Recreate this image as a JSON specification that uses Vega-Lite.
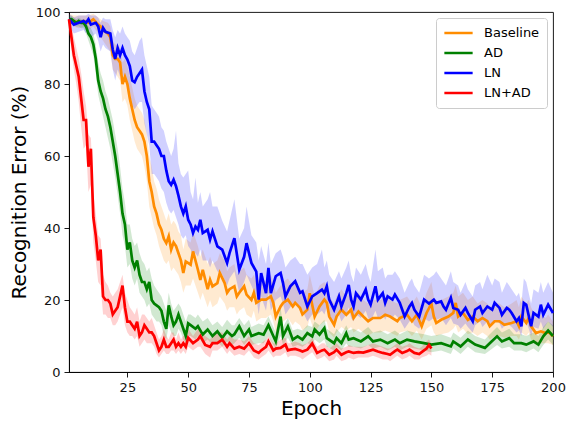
{
"$schema":"https://vega.github.io/schema/vega-lite/v6.json",
"width":484,"height":360,
"autosize":{"type":"none"},
"padding":{"left":69,"top":12,"right":13,"bottom":49},
"config":{"font":"DejaVu Sans","view":{"stroke":"#000","strokeWidth":0.9},
"axis":{"grid":false,"labelFlush":false,"domainColor":"#000","domainWidth":0.9,"tickColor":"#000","tickWidth":0.9,"tickSize":5,"labelFontSize":13,"labelColor":"#111","titleColor":"#000","titleFontSize":20,"titleFontWeight":"normal","labelPadding":4}},
"data":{"values":[
{"m":"Baseline","e":1,"y":98,"lo":96.5,"hi":99.5},{"m":"Baseline","e":3,"y":97.5,"lo":96,"hi":99},{"m":"Baseline","e":5,"y":97,"lo":95.5,"hi":99},{"m":"Baseline","e":7,"y":97.5,"lo":96,"hi":99},{"m":"Baseline","e":9,"y":97,"lo":95,"hi":99},{"m":"Baseline","e":11,"y":98,"lo":96,"hi":99.5},{"m":"Baseline","e":13,"y":96.5,"lo":94,"hi":98.5},{"m":"Baseline","e":14,"y":96,"lo":93,"hi":98},{"m":"Baseline","e":15,"y":95,"lo":92,"hi":97.5},{"m":"Baseline","e":17,"y":94,"lo":90,"hi":97},{"m":"Baseline","e":18,"y":93,"lo":89,"hi":96},{"m":"Baseline","e":19,"y":88,"lo":84,"hi":92},{"m":"Baseline","e":20,"y":87,"lo":83,"hi":91},{"m":"Baseline","e":21,"y":87,"lo":82,"hi":91},{"m":"Baseline","e":22,"y":86,"lo":81,"hi":90},{"m":"Baseline","e":23,"y":80,"lo":75,"hi":86},{"m":"Baseline","e":24,"y":82,"lo":76,"hi":87},{"m":"Baseline","e":25,"y":80,"lo":74,"hi":85},{"m":"Baseline","e":26,"y":76,"lo":70,"hi":82},{"m":"Baseline","e":27,"y":73,"lo":67,"hi":79},{"m":"Baseline","e":28,"y":70,"lo":64,"hi":76},{"m":"Baseline","e":29,"y":68,"lo":62,"hi":74},{"m":"Baseline","e":30,"y":67,"lo":61,"hi":73},{"m":"Baseline","e":31,"y":66,"lo":60,"hi":72},{"m":"Baseline","e":32,"y":64,"lo":57,"hi":70},{"m":"Baseline","e":33,"y":60,"lo":53,"hi":66},{"m":"Baseline","e":34,"y":53,"lo":46,"hi":60},{"m":"Baseline","e":35,"y":50,"lo":43,"hi":57},{"m":"Baseline","e":36,"y":46,"lo":40,"hi":53},{"m":"Baseline","e":37,"y":44,"lo":38,"hi":51},{"m":"Baseline","e":38,"y":41,"lo":35,"hi":48},{"m":"Baseline","e":39,"y":39.5,"lo":33,"hi":46},{"m":"Baseline","e":40,"y":37,"lo":31,"hi":44},{"m":"Baseline","e":41,"y":35.8,"lo":30,"hi":42},{"m":"Baseline","e":42,"y":37.7,"lo":31,"hi":44},{"m":"Baseline","e":43,"y":34,"lo":28,"hi":41},{"m":"Baseline","e":44,"y":36,"lo":29,"hi":42},{"m":"Baseline","e":45,"y":35,"lo":28,"hi":41},{"m":"Baseline","e":46,"y":33,"lo":27,"hi":39},{"m":"Baseline","e":47,"y":31,"lo":25,"hi":38},{"m":"Baseline","e":48,"y":27.5,"lo":22,"hi":34},{"m":"Baseline","e":49,"y":30.7,"lo":24,"hi":37},{"m":"Baseline","e":51,"y":29.8,"lo":24,"hi":36},{"m":"Baseline","e":52,"y":33.5,"lo":26,"hi":39},{"m":"Baseline","e":54,"y":28.4,"lo":22,"hi":35},{"m":"Baseline","e":55,"y":25.6,"lo":20,"hi":32},{"m":"Baseline","e":56,"y":28.4,"lo":22,"hi":34},{"m":"Baseline","e":58,"y":23,"lo":18,"hi":30},{"m":"Baseline","e":59,"y":25.6,"lo":20,"hi":32},{"m":"Baseline","e":60,"y":23.8,"lo":18,"hi":30},{"m":"Baseline","e":62,"y":24.7,"lo":19,"hi":31},{"m":"Baseline","e":63,"y":27.5,"lo":21,"hi":33},{"m":"Baseline","e":65,"y":24.7,"lo":19,"hi":31},{"m":"Baseline","e":66,"y":22,"lo":17,"hi":28},{"m":"Baseline","e":67,"y":23,"lo":18,"hi":29},{"m":"Baseline","e":69,"y":23.8,"lo":18,"hi":30},{"m":"Baseline","e":70,"y":21,"lo":16,"hi":27},{"m":"Baseline","e":71,"y":22,"lo":17,"hi":28},{"m":"Baseline","e":73,"y":23.8,"lo":18,"hi":29},{"m":"Baseline","e":74,"y":21.5,"lo":16,"hi":27},{"m":"Baseline","e":76,"y":20,"lo":15,"hi":26},{"m":"Baseline","e":77,"y":22,"lo":17,"hi":27},{"m":"Baseline","e":78,"y":19.2,"lo":14,"hi":25},{"m":"Baseline","e":80,"y":20.1,"lo":15,"hi":26},{"m":"Baseline","e":82,"y":20.1,"lo":15,"hi":25},{"m":"Baseline","e":84,"y":21,"lo":16,"hi":27},{"m":"Baseline","e":85,"y":19.2,"lo":14,"hi":25},{"m":"Baseline","e":86,"y":15.4,"lo":11,"hi":22},{"m":"Baseline","e":88,"y":18.2,"lo":13,"hi":24},{"m":"Baseline","e":89,"y":19.2,"lo":14,"hi":25},{"m":"Baseline","e":91,"y":20.1,"lo":15,"hi":26},{"m":"Baseline","e":93,"y":18.2,"lo":13,"hi":24},{"m":"Baseline","e":94,"y":19.2,"lo":14,"hi":25},{"m":"Baseline","e":96,"y":17.8,"lo":13,"hi":23},{"m":"Baseline","e":97,"y":16,"lo":11.5,"hi":22},{"m":"Baseline","e":99,"y":17.3,"lo":12.5,"hi":23},{"m":"Baseline","e":100,"y":21.9,"lo":15,"hi":27},{"m":"Baseline","e":102,"y":15.4,"lo":11,"hi":21},{"m":"Baseline","e":104,"y":18.2,"lo":13,"hi":24},{"m":"Baseline","e":106,"y":20.1,"lo":14,"hi":25},{"m":"Baseline","e":107,"y":19.2,"lo":14,"hi":24},{"m":"Baseline","e":108,"y":15.4,"lo":11,"hi":21},{"m":"Baseline","e":110,"y":13.1,"lo":9.5,"hi":19},{"m":"Baseline","e":111,"y":15.4,"lo":11,"hi":21},{"m":"Baseline","e":113,"y":17.3,"lo":12.5,"hi":23},{"m":"Baseline","e":115,"y":15.9,"lo":11.5,"hi":21},{"m":"Baseline","e":117,"y":17.3,"lo":12.5,"hi":22},{"m":"Baseline","e":118,"y":15,"lo":11,"hi":20},{"m":"Baseline","e":120,"y":16.8,"lo":12,"hi":22},{"m":"Baseline","e":122,"y":15.4,"lo":11,"hi":20},{"m":"Baseline","e":124,"y":14.1,"lo":10,"hi":19},{"m":"Baseline","e":126,"y":15,"lo":11,"hi":20},{"m":"Baseline","e":129,"y":15,"lo":11,"hi":20},{"m":"Baseline","e":131,"y":15.9,"lo":11.5,"hi":21},{"m":"Baseline","e":133,"y":15.4,"lo":11,"hi":20},{"m":"Baseline","e":136,"y":14.1,"lo":10,"hi":19},{"m":"Baseline","e":137,"y":15,"lo":11,"hi":20},{"m":"Baseline","e":140,"y":15.9,"lo":11.5,"hi":21},{"m":"Baseline","e":142,"y":14.1,"lo":10,"hi":19},{"m":"Baseline","e":144,"y":15.9,"lo":11.5,"hi":21},{"m":"Baseline","e":146,"y":12.7,"lo":9,"hi":18},{"m":"Baseline","e":148,"y":16.4,"lo":12,"hi":22},{"m":"Baseline","e":150,"y":19,"lo":13,"hi":25},{"m":"Baseline","e":151,"y":15.4,"lo":11,"hi":21},{"m":"Baseline","e":152,"y":13.6,"lo":10,"hi":19},{"m":"Baseline","e":154,"y":14.5,"lo":10.5,"hi":20},{"m":"Baseline","e":157,"y":15.4,"lo":11,"hi":21},{"m":"Baseline","e":159,"y":16.4,"lo":12,"hi":22},{"m":"Baseline","e":160,"y":19.2,"lo":13,"hi":24},{"m":"Baseline","e":161,"y":15.4,"lo":11,"hi":21},{"m":"Baseline","e":163,"y":16.4,"lo":12,"hi":22},{"m":"Baseline","e":165,"y":14.5,"lo":10.5,"hi":20},{"m":"Baseline","e":167,"y":15.4,"lo":11,"hi":21},{"m":"Baseline","e":169,"y":14.1,"lo":10,"hi":19},{"m":"Baseline","e":171,"y":15,"lo":11,"hi":20},{"m":"Baseline","e":173,"y":14.1,"lo":10,"hi":19},{"m":"Baseline","e":174,"y":12.7,"lo":9,"hi":18},{"m":"Baseline","e":176,"y":14.1,"lo":10,"hi":19},{"m":"Baseline","e":178,"y":14.1,"lo":10,"hi":19},{"m":"Baseline","e":180,"y":13.1,"lo":9.5,"hi":18},{"m":"Baseline","e":183,"y":13.6,"lo":10,"hi":19},{"m":"Baseline","e":185,"y":14.1,"lo":10,"hi":20},{"m":"Baseline","e":186,"y":12.7,"lo":9,"hi":18},{"m":"Baseline","e":187,"y":15.4,"lo":11,"hi":21},{"m":"Baseline","e":189,"y":13.6,"lo":10,"hi":19},{"m":"Baseline","e":190,"y":15,"lo":11,"hi":20},{"m":"Baseline","e":191,"y":12.7,"lo":9,"hi":18},{"m":"Baseline","e":193,"y":10.8,"lo":8,"hi":15},{"m":"Baseline","e":195,"y":11.3,"lo":8,"hi":16},{"m":"Baseline","e":197,"y":10.8,"lo":8,"hi":15},{"m":"Baseline","e":198,"y":11.3,"lo":8,"hi":16},{"m":"Baseline","e":200,"y":9.9,"lo":7.5,"hi":14},
{"m":"AD","e":1,"y":98,"lo":97,"hi":99},{"m":"AD","e":2,"y":98,"lo":97,"hi":99},{"m":"AD","e":3,"y":97.5,"lo":96.5,"hi":98.5},{"m":"AD","e":4,"y":97,"lo":96,"hi":98},{"m":"AD","e":5,"y":97.5,"lo":96,"hi":98.5},{"m":"AD","e":6,"y":97,"lo":95.5,"hi":98},{"m":"AD","e":7,"y":97,"lo":95.5,"hi":98},{"m":"AD","e":8,"y":96,"lo":94,"hi":97.5},{"m":"AD","e":9,"y":94,"lo":92,"hi":96},{"m":"AD","e":10,"y":93,"lo":90,"hi":95.5},{"m":"AD","e":11,"y":91,"lo":88,"hi":94},{"m":"AD","e":12,"y":87,"lo":83,"hi":91},{"m":"AD","e":13,"y":81,"lo":77,"hi":86},{"m":"AD","e":14,"y":78,"lo":74,"hi":83},{"m":"AD","e":15,"y":76,"lo":71,"hi":81},{"m":"AD","e":16,"y":73,"lo":68,"hi":78},{"m":"AD","e":17,"y":71,"lo":65,"hi":76},{"m":"AD","e":18,"y":68,"lo":62,"hi":73},{"m":"AD","e":19,"y":64,"lo":58,"hi":70},{"m":"AD","e":20,"y":60,"lo":54,"hi":66},{"m":"AD","e":21,"y":55,"lo":49,"hi":62},{"m":"AD","e":22,"y":50,"lo":44,"hi":57},{"m":"AD","e":23,"y":44,"lo":38,"hi":51},{"m":"AD","e":24,"y":41,"lo":35,"hi":47},{"m":"AD","e":25,"y":34,"lo":29,"hi":41},{"m":"AD","e":26,"y":36,"lo":30,"hi":41},{"m":"AD","e":27,"y":31,"lo":26,"hi":37},{"m":"AD","e":28,"y":29,"lo":24,"hi":35},{"m":"AD","e":29,"y":31,"lo":26,"hi":36},{"m":"AD","e":30,"y":27,"lo":22,"hi":33},{"m":"AD","e":31,"y":25,"lo":21,"hi":31},{"m":"AD","e":32,"y":25,"lo":20,"hi":30},{"m":"AD","e":33,"y":23,"lo":18,"hi":28},{"m":"AD","e":34,"y":25,"lo":19,"hi":29},{"m":"AD","e":35,"y":20,"lo":16,"hi":26},{"m":"AD","e":36,"y":19,"lo":15,"hi":24},{"m":"AD","e":37,"y":18.5,"lo":14,"hi":23},{"m":"AD","e":38,"y":18,"lo":14,"hi":22},{"m":"AD","e":39,"y":17,"lo":13,"hi":21},{"m":"AD","e":40,"y":14,"lo":10,"hi":19},{"m":"AD","e":41,"y":12,"lo":9,"hi":17},{"m":"AD","e":42,"y":18.5,"lo":13,"hi":22},{"m":"AD","e":43,"y":15.5,"lo":11,"hi":19},{"m":"AD","e":44,"y":13,"lo":10,"hi":17},{"m":"AD","e":45,"y":14,"lo":10,"hi":18},{"m":"AD","e":46,"y":16,"lo":12,"hi":19},{"m":"AD","e":47,"y":14,"lo":11,"hi":18},{"m":"AD","e":48,"y":12,"lo":9,"hi":16},{"m":"AD","e":49,"y":10,"lo":8,"hi":14},{"m":"AD","e":50,"y":13.5,"lo":10,"hi":16},{"m":"AD","e":51,"y":13,"lo":10,"hi":16},{"m":"AD","e":53,"y":12,"lo":9,"hi":15},{"m":"AD","e":54,"y":12.7,"lo":10,"hi":16},{"m":"AD","e":56,"y":10.4,"lo":8,"hi":14},{"m":"AD","e":58,"y":11.8,"lo":9,"hi":15},{"m":"AD","e":60,"y":10,"lo":7.5,"hi":13},{"m":"AD","e":62,"y":11.3,"lo":8.5,"hi":14},{"m":"AD","e":64,"y":9.5,"lo":7,"hi":12.5},{"m":"AD","e":66,"y":11.3,"lo":8.5,"hi":14.5},{"m":"AD","e":68,"y":10,"lo":7.5,"hi":13},{"m":"AD","e":69,"y":10.5,"lo":8,"hi":13},{"m":"AD","e":71,"y":12.7,"lo":9.5,"hi":15},{"m":"AD","e":73,"y":10,"lo":7.5,"hi":13},{"m":"AD","e":75,"y":11.8,"lo":9,"hi":14.5},{"m":"AD","e":76,"y":10,"lo":7.5,"hi":12.5},{"m":"AD","e":79,"y":10.8,"lo":8,"hi":13.5},{"m":"AD","e":81,"y":10.4,"lo":8,"hi":13},{"m":"AD","e":83,"y":13,"lo":10,"hi":15.5},{"m":"AD","e":85,"y":10,"lo":7.5,"hi":12.5},{"m":"AD","e":86,"y":8.5,"lo":6.5,"hi":11},{"m":"AD","e":88,"y":15.4,"lo":10,"hi":18},{"m":"AD","e":89,"y":10,"lo":7.5,"hi":12.5},{"m":"AD","e":91,"y":12.7,"lo":9.5,"hi":15},{"m":"AD","e":93,"y":9,"lo":7,"hi":11.5},{"m":"AD","e":95,"y":9.9,"lo":7.5,"hi":12},{"m":"AD","e":97,"y":9,"lo":7,"hi":11.5},{"m":"AD","e":99,"y":10.8,"lo":8,"hi":13},{"m":"AD","e":101,"y":9.9,"lo":7.5,"hi":12.5},{"m":"AD","e":102,"y":11.8,"lo":9,"hi":14},{"m":"AD","e":104,"y":10.4,"lo":8,"hi":13},{"m":"AD","e":106,"y":12.2,"lo":9,"hi":14.5},{"m":"AD","e":107,"y":9.4,"lo":7,"hi":12},{"m":"AD","e":110,"y":8,"lo":6,"hi":10.5},{"m":"AD","e":111,"y":9.4,"lo":7,"hi":12},{"m":"AD","e":113,"y":8,"lo":6,"hi":10.5},{"m":"AD","e":115,"y":10.8,"lo":8,"hi":13},{"m":"AD","e":116,"y":9,"lo":7,"hi":11.5},{"m":"AD","e":118,"y":9.4,"lo":7,"hi":12},{"m":"AD","e":121,"y":8.5,"lo":6.5,"hi":11},{"m":"AD","e":124,"y":9.9,"lo":7.5,"hi":12.5},{"m":"AD","e":126,"y":8.5,"lo":6.5,"hi":11},{"m":"AD","e":129,"y":9,"lo":7,"hi":11.5},{"m":"AD","e":132,"y":8,"lo":6,"hi":10.5},{"m":"AD","e":135,"y":9,"lo":7,"hi":11.5},{"m":"AD","e":137,"y":8,"lo":6,"hi":10.5},{"m":"AD","e":140,"y":9,"lo":7,"hi":11.5},{"m":"AD","e":143,"y":8.5,"lo":6.5,"hi":11},{"m":"AD","e":147,"y":8,"lo":6,"hi":10.5},{"m":"AD","e":150,"y":7.6,"lo":5.5,"hi":10},{"m":"AD","e":154,"y":8,"lo":6,"hi":10.5},{"m":"AD","e":158,"y":7.1,"lo":5,"hi":9.5},{"m":"AD","e":159,"y":8.5,"lo":6.5,"hi":11},{"m":"AD","e":162,"y":7.1,"lo":5,"hi":9.5},{"m":"AD","e":165,"y":9,"lo":7,"hi":11.5},{"m":"AD","e":168,"y":7.6,"lo":5.5,"hi":10},{"m":"AD","e":172,"y":6.7,"lo":5,"hi":9},{"m":"AD","e":174,"y":8,"lo":6,"hi":10.5},{"m":"AD","e":177,"y":9.9,"lo":7.5,"hi":12.5},{"m":"AD","e":179,"y":8.5,"lo":6.5,"hi":11},{"m":"AD","e":182,"y":9.4,"lo":7,"hi":12},{"m":"AD","e":184,"y":8,"lo":6,"hi":10.5},{"m":"AD","e":187,"y":8,"lo":6,"hi":10.5},{"m":"AD","e":189,"y":7.6,"lo":5.5,"hi":10},{"m":"AD","e":192,"y":8.5,"lo":6.5,"hi":11},{"m":"AD","e":194,"y":7.6,"lo":5.5,"hi":10},{"m":"AD","e":196,"y":9.9,"lo":7.5,"hi":12.5},{"m":"AD","e":198,"y":11.5,"lo":9,"hi":14},{"m":"AD","e":200,"y":10,"lo":7.5,"hi":13},
{"m":"LN","e":1,"y":98,"lo":96,"hi":99.5},{"m":"LN","e":3,"y":96.5,"lo":94,"hi":98.5},{"m":"LN","e":5,"y":97,"lo":94.5,"hi":99},{"m":"LN","e":7,"y":97.5,"lo":95,"hi":99},{"m":"LN","e":8,"y":97,"lo":94,"hi":99},{"m":"LN","e":9,"y":98,"lo":95,"hi":99.5},{"m":"LN","e":10,"y":96.5,"lo":93,"hi":99},{"m":"LN","e":12,"y":97,"lo":94,"hi":99},{"m":"LN","e":13,"y":96,"lo":92,"hi":98.5},{"m":"LN","e":14,"y":93,"lo":89,"hi":97},{"m":"LN","e":15,"y":95.6,"lo":91,"hi":98.5},{"m":"LN","e":16,"y":94.5,"lo":90,"hi":98},{"m":"LN","e":18,"y":94,"lo":89,"hi":98},{"m":"LN","e":19,"y":89.5,"lo":84,"hi":95},{"m":"LN","e":20,"y":87,"lo":81,"hi":93},{"m":"LN","e":21,"y":90,"lo":84,"hi":95},{"m":"LN","e":22,"y":88,"lo":82,"hi":94},{"m":"LN","e":23,"y":90,"lo":83,"hi":96},{"m":"LN","e":24,"y":88,"lo":81,"hi":94},{"m":"LN","e":25,"y":86.8,"lo":80,"hi":93},{"m":"LN","e":26,"y":85,"lo":78,"hi":92},{"m":"LN","e":27,"y":81,"lo":74,"hi":89},{"m":"LN","e":28,"y":80.5,"lo":73,"hi":88},{"m":"LN","e":29,"y":82,"lo":74,"hi":90},{"m":"LN","e":30,"y":83,"lo":75,"hi":92},{"m":"LN","e":31,"y":84,"lo":75,"hi":93},{"m":"LN","e":32,"y":78,"lo":69,"hi":88},{"m":"LN","e":33,"y":75,"lo":66,"hi":85},{"m":"LN","e":34,"y":73,"lo":63,"hi":82},{"m":"LN","e":35,"y":64,"lo":55,"hi":74},{"m":"LN","e":36,"y":64,"lo":55,"hi":73},{"m":"LN","e":37,"y":63,"lo":54,"hi":72},{"m":"LN","e":38,"y":62,"lo":53,"hi":71},{"m":"LN","e":39,"y":60,"lo":51,"hi":68},{"m":"LN","e":40,"y":60,"lo":50,"hi":67},{"m":"LN","e":41,"y":56,"lo":47,"hi":64},{"m":"LN","e":42,"y":53,"lo":45,"hi":62},{"m":"LN","e":43,"y":52,"lo":44,"hi":60},{"m":"LN","e":44,"y":53.4,"lo":45,"hi":62},{"m":"LN","e":45,"y":51.6,"lo":43,"hi":67},{"m":"LN","e":46,"y":49,"lo":41,"hi":58},{"m":"LN","e":47,"y":46,"lo":38,"hi":55},{"m":"LN","e":48,"y":44,"lo":37,"hi":54},{"m":"LN","e":49,"y":46,"lo":38,"hi":55},{"m":"LN","e":50,"y":42.3,"lo":35,"hi":56},{"m":"LN","e":51,"y":41,"lo":34,"hi":50},{"m":"LN","e":52,"y":38.6,"lo":32,"hi":48},{"m":"LN","e":53,"y":40.4,"lo":33,"hi":54},{"m":"LN","e":54,"y":39.5,"lo":32,"hi":47},{"m":"LN","e":55,"y":42.3,"lo":34,"hi":50},{"m":"LN","e":56,"y":38.6,"lo":31,"hi":46},{"m":"LN","e":58,"y":39.5,"lo":31,"hi":48},{"m":"LN","e":59,"y":36.8,"lo":29,"hi":50},{"m":"LN","e":60,"y":39.1,"lo":31,"hi":46},{"m":"LN","e":62,"y":34.9,"lo":28,"hi":46},{"m":"LN","e":64,"y":34,"lo":27,"hi":42},{"m":"LN","e":66,"y":30.3,"lo":24,"hi":39},{"m":"LN","e":67,"y":33,"lo":26,"hi":42},{"m":"LN","e":69,"y":37.2,"lo":28,"hi":48},{"m":"LN","e":71,"y":28.4,"lo":22,"hi":37},{"m":"LN","e":73,"y":32,"lo":25,"hi":40},{"m":"LN","e":74,"y":35.8,"lo":27,"hi":46},{"m":"LN","e":76,"y":30.3,"lo":24,"hi":38},{"m":"LN","e":78,"y":27.9,"lo":21,"hi":36},{"m":"LN","e":79,"y":20.1,"lo":16,"hi":31},{"m":"LN","e":80,"y":27.5,"lo":21,"hi":35},{"m":"LN","e":82,"y":21.9,"lo":17,"hi":30},{"m":"LN","e":83,"y":28.9,"lo":22,"hi":36},{"m":"LN","e":84,"y":21.9,"lo":17,"hi":30},{"m":"LN","e":86,"y":26.6,"lo":20,"hi":33},{"m":"LN","e":88,"y":27.5,"lo":21,"hi":34},{"m":"LN","e":89,"y":24.7,"lo":19,"hi":32},{"m":"LN","e":90,"y":21,"lo":16,"hi":29},{"m":"LN","e":92,"y":23.8,"lo":18,"hi":31},{"m":"LN","e":94,"y":25.2,"lo":19,"hi":32},{"m":"LN","e":96,"y":22,"lo":17,"hi":30},{"m":"LN","e":97,"y":22.4,"lo":17,"hi":30},{"m":"LN","e":99,"y":18.2,"lo":14,"hi":27},{"m":"LN","e":101,"y":21,"lo":16,"hi":29},{"m":"LN","e":103,"y":21.9,"lo":16,"hi":30},{"m":"LN","e":105,"y":22.9,"lo":17,"hi":34},{"m":"LN","e":106,"y":21.9,"lo":16,"hi":29},{"m":"LN","e":107,"y":23.8,"lo":18,"hi":31},{"m":"LN","e":108,"y":20.1,"lo":15,"hi":27},{"m":"LN","e":110,"y":17.3,"lo":13,"hi":25},{"m":"LN","e":112,"y":21,"lo":16,"hi":28},{"m":"LN","e":113,"y":18.2,"lo":14,"hi":26},{"m":"LN","e":115,"y":21.9,"lo":16,"hi":29},{"m":"LN","e":116,"y":24.2,"lo":18,"hi":31},{"m":"LN","e":117,"y":20.1,"lo":15,"hi":27},{"m":"LN","e":118,"y":18.2,"lo":14,"hi":25},{"m":"LN","e":119,"y":21.9,"lo":16,"hi":29},{"m":"LN","e":121,"y":20.1,"lo":15,"hi":27},{"m":"LN","e":123,"y":22.9,"lo":17,"hi":30},{"m":"LN","e":124,"y":20.1,"lo":15,"hi":27},{"m":"LN","e":125,"y":18.7,"lo":14,"hi":25},{"m":"LN","e":127,"y":23.8,"lo":17,"hi":34},{"m":"LN","e":128,"y":20.1,"lo":15,"hi":28},{"m":"LN","e":130,"y":21.9,"lo":16,"hi":29},{"m":"LN","e":131,"y":19.2,"lo":14.5,"hi":26},{"m":"LN","e":132,"y":21,"lo":16,"hi":27},{"m":"LN","e":134,"y":20.1,"lo":15,"hi":27},{"m":"LN","e":135,"y":21.5,"lo":16,"hi":28},{"m":"LN","e":137,"y":19.2,"lo":14.5,"hi":26},{"m":"LN","e":139,"y":15.4,"lo":12,"hi":22},{"m":"LN","e":141,"y":18.2,"lo":14,"hi":25},{"m":"LN","e":142,"y":19.2,"lo":14.5,"hi":26},{"m":"LN","e":143,"y":17.3,"lo":13,"hi":24},{"m":"LN","e":145,"y":15.4,"lo":12,"hi":22},{"m":"LN","e":147,"y":20.1,"lo":15,"hi":27},{"m":"LN","e":149,"y":19,"lo":14,"hi":26},{"m":"LN","e":151,"y":20.1,"lo":15,"hi":27},{"m":"LN","e":152,"y":19.2,"lo":14.5,"hi":28},{"m":"LN","e":154,"y":19.6,"lo":15,"hi":26},{"m":"LN","e":155,"y":18.2,"lo":14,"hi":25},{"m":"LN","e":156,"y":17.3,"lo":13,"hi":24},{"m":"LN","e":158,"y":20.6,"lo":15,"hi":28},{"m":"LN","e":159,"y":17.8,"lo":13.5,"hi":25},{"m":"LN","e":161,"y":17.3,"lo":13,"hi":24},{"m":"LN","e":162,"y":15.9,"lo":12,"hi":22},{"m":"LN","e":164,"y":17.8,"lo":13.5,"hi":25},{"m":"LN","e":165,"y":16.4,"lo":12.5,"hi":23},{"m":"LN","e":167,"y":14.1,"lo":11,"hi":21},{"m":"LN","e":168,"y":17.3,"lo":13,"hi":24},{"m":"LN","e":170,"y":18.2,"lo":14,"hi":25},{"m":"LN","e":171,"y":16.4,"lo":12.5,"hi":23},{"m":"LN","e":173,"y":18.2,"lo":14,"hi":27},{"m":"LN","e":175,"y":17.3,"lo":13,"hi":24},{"m":"LN","e":176,"y":19.2,"lo":14.5,"hi":26},{"m":"LN","e":178,"y":17.8,"lo":13.5,"hi":25},{"m":"LN","e":179,"y":15.9,"lo":12,"hi":22},{"m":"LN","e":181,"y":17.8,"lo":13.5,"hi":25},{"m":"LN","e":182,"y":17.3,"lo":13,"hi":24},{"m":"LN","e":183,"y":16.4,"lo":12.5,"hi":23},{"m":"LN","e":185,"y":14.1,"lo":11,"hi":21},{"m":"LN","e":186,"y":15,"lo":11.5,"hi":22},{"m":"LN","e":187,"y":12.7,"lo":10,"hi":19},{"m":"LN","e":188,"y":19.2,"lo":14.5,"hi":26},{"m":"LN","e":189,"y":18.7,"lo":14,"hi":25},{"m":"LN","e":191,"y":12.7,"lo":10,"hi":19},{"m":"LN","e":192,"y":16.4,"lo":12.5,"hi":23},{"m":"LN","e":194,"y":15.4,"lo":12,"hi":22},{"m":"LN","e":195,"y":18.7,"lo":14,"hi":25},{"m":"LN","e":196,"y":15.9,"lo":12,"hi":22},{"m":"LN","e":198,"y":18.7,"lo":14,"hi":25},{"m":"LN","e":200,"y":16.4,"lo":12.5,"hi":22},
{"m":"LN+AD","e":1,"y":98,"lo":96,"hi":99},{"m":"LN+AD","e":2,"y":93,"lo":89,"hi":96},{"m":"LN+AD","e":3,"y":88,"lo":84,"hi":93},{"m":"LN+AD","e":4,"y":85,"lo":80,"hi":90},{"m":"LN+AD","e":5,"y":82,"lo":75,"hi":87},{"m":"LN+AD","e":6,"y":76,"lo":68,"hi":83},{"m":"LN+AD","e":7,"y":70,"lo":62,"hi":78},{"m":"LN+AD","e":8,"y":70,"lo":63,"hi":74},{"m":"LN+AD","e":9,"y":57,"lo":50,"hi":66},{"m":"LN+AD","e":10,"y":62,"lo":52,"hi":65},{"m":"LN+AD","e":11,"y":43,"lo":36,"hi":50},{"m":"LN+AD","e":12,"y":38,"lo":31,"hi":44},{"m":"LN+AD","e":13,"y":31,"lo":25,"hi":38},{"m":"LN+AD","e":14,"y":34,"lo":24,"hi":37},{"m":"LN+AD","e":15,"y":21,"lo":16,"hi":27},{"m":"LN+AD","e":16,"y":20,"lo":16,"hi":25},{"m":"LN+AD","e":17,"y":20,"lo":15,"hi":24},{"m":"LN+AD","e":18,"y":19,"lo":15,"hi":22},{"m":"LN+AD","e":19,"y":16,"lo":13,"hi":21},{"m":"LN+AD","e":20,"y":17,"lo":13,"hi":22},{"m":"LN+AD","e":21,"y":18,"lo":14,"hi":23},{"m":"LN+AD","e":22,"y":21,"lo":16,"hi":25},{"m":"LN+AD","e":23,"y":24,"lo":18,"hi":27},{"m":"LN+AD","e":24,"y":18,"lo":13,"hi":22},{"m":"LN+AD","e":25,"y":14,"lo":11,"hi":20},{"m":"LN+AD","e":26,"y":14,"lo":10,"hi":18},{"m":"LN+AD","e":27,"y":13,"lo":10,"hi":17},{"m":"LN+AD","e":28,"y":12,"lo":9,"hi":16},{"m":"LN+AD","e":29,"y":14,"lo":10,"hi":18},{"m":"LN+AD","e":30,"y":10,"lo":7,"hi":14},{"m":"LN+AD","e":31,"y":11,"lo":8,"hi":16},{"m":"LN+AD","e":32,"y":13,"lo":9,"hi":16},{"m":"LN+AD","e":33,"y":12,"lo":8,"hi":15},{"m":"LN+AD","e":34,"y":11,"lo":8,"hi":14},{"m":"LN+AD","e":35,"y":11,"lo":8,"hi":15},{"m":"LN+AD","e":36,"y":10,"lo":7,"hi":13},{"m":"LN+AD","e":37,"y":8,"lo":5,"hi":11},{"m":"LN+AD","e":38,"y":6,"lo":4,"hi":9},{"m":"LN+AD","e":39,"y":7,"lo":5,"hi":10},{"m":"LN+AD","e":40,"y":9,"lo":6,"hi":12},{"m":"LN+AD","e":41,"y":7,"lo":5,"hi":10},{"m":"LN+AD","e":42,"y":7,"lo":5,"hi":9},{"m":"LN+AD","e":43,"y":8,"lo":6,"hi":11},{"m":"LN+AD","e":44,"y":9,"lo":6,"hi":11},{"m":"LN+AD","e":45,"y":7,"lo":5,"hi":9},{"m":"LN+AD","e":46,"y":8,"lo":6,"hi":11},{"m":"LN+AD","e":47,"y":7,"lo":5,"hi":9},{"m":"LN+AD","e":48,"y":8,"lo":6,"hi":10},{"m":"LN+AD","e":49,"y":7,"lo":5,"hi":10},{"m":"LN+AD","e":50,"y":9.5,"lo":7,"hi":12},{"m":"LN+AD","e":52,"y":8,"lo":6,"hi":10},{"m":"LN+AD","e":54,"y":9,"lo":7,"hi":12},{"m":"LN+AD","e":55,"y":10,"lo":7,"hi":12},{"m":"LN+AD","e":57,"y":7.5,"lo":5,"hi":10},{"m":"LN+AD","e":59,"y":7,"lo":4,"hi":9},{"m":"LN+AD","e":60,"y":8,"lo":6,"hi":10},{"m":"LN+AD","e":62,"y":8,"lo":6,"hi":11},{"m":"LN+AD","e":64,"y":9,"lo":7,"hi":11},{"m":"LN+AD","e":66,"y":7,"lo":5,"hi":9},{"m":"LN+AD","e":67,"y":8,"lo":6,"hi":10},{"m":"LN+AD","e":69,"y":6.5,"lo":4.5,"hi":9},{"m":"LN+AD","e":71,"y":7,"lo":5,"hi":9},{"m":"LN+AD","e":73,"y":6.5,"lo":4.5,"hi":8.5},{"m":"LN+AD","e":75,"y":8,"lo":6,"hi":10},{"m":"LN+AD","e":77,"y":6,"lo":4,"hi":8},{"m":"LN+AD","e":79,"y":5.3,"lo":3.5,"hi":7.5},{"m":"LN+AD","e":80,"y":6,"lo":4,"hi":8},{"m":"LN+AD","e":82,"y":7,"lo":5,"hi":9},{"m":"LN+AD","e":83,"y":8.5,"lo":6,"hi":10},{"m":"LN+AD","e":85,"y":6,"lo":4,"hi":8},{"m":"LN+AD","e":86,"y":6.5,"lo":4.5,"hi":8},{"m":"LN+AD","e":88,"y":6.7,"lo":4.5,"hi":9},{"m":"LN+AD","e":90,"y":7.6,"lo":5.5,"hi":9.5},{"m":"LN+AD","e":91,"y":6,"lo":4,"hi":8},{"m":"LN+AD","e":92,"y":6.2,"lo":4.5,"hi":8},{"m":"LN+AD","e":94,"y":6.4,"lo":4.5,"hi":8.5},{"m":"LN+AD","e":96,"y":6,"lo":4,"hi":8},{"m":"LN+AD","e":97,"y":5.7,"lo":3.5,"hi":7.5},{"m":"LN+AD","e":99,"y":6.2,"lo":4.5,"hi":8},{"m":"LN+AD","e":101,"y":7.9,"lo":5.5,"hi":9.5},{"m":"LN+AD","e":103,"y":5.3,"lo":3.5,"hi":7},{"m":"LN+AD","e":105,"y":6,"lo":4,"hi":8},{"m":"LN+AD","e":106,"y":6.2,"lo":4.5,"hi":8},{"m":"LN+AD","e":108,"y":4.8,"lo":3,"hi":6.5},{"m":"LN+AD","e":110,"y":5.5,"lo":3.5,"hi":7.5},{"m":"LN+AD","e":111,"y":6.2,"lo":4.5,"hi":8},{"m":"LN+AD","e":113,"y":4.8,"lo":3,"hi":6.5},{"m":"LN+AD","e":115,"y":5.5,"lo":3.5,"hi":7},{"m":"LN+AD","e":116,"y":5.7,"lo":4,"hi":7.5},{"m":"LN+AD","e":118,"y":5.3,"lo":3.5,"hi":7},{"m":"LN+AD","e":120,"y":5.5,"lo":4,"hi":7},{"m":"LN+AD","e":122,"y":5.4,"lo":4,"hi":7},{"m":"LN+AD","e":124,"y":5.8,"lo":4,"hi":7.5},{"m":"LN+AD","e":126,"y":6.2,"lo":4.5,"hi":8},{"m":"LN+AD","e":128,"y":5.7,"lo":4,"hi":7.5},{"m":"LN+AD","e":130,"y":5.3,"lo":3.5,"hi":7},{"m":"LN+AD","e":132,"y":5,"lo":3.5,"hi":6.5},{"m":"LN+AD","e":133,"y":4.8,"lo":3,"hi":6.5},{"m":"LN+AD","e":135,"y":5.8,"lo":4,"hi":7.5},{"m":"LN+AD","e":136,"y":6.2,"lo":4.5,"hi":8},{"m":"LN+AD","e":138,"y":5.3,"lo":3.5,"hi":7},{"m":"LN+AD","e":140,"y":5.8,"lo":4,"hi":7.5},{"m":"LN+AD","e":141,"y":6.2,"lo":4.5,"hi":8},{"m":"LN+AD","e":143,"y":5.3,"lo":3.5,"hi":7},{"m":"LN+AD","e":145,"y":5,"lo":3.5,"hi":6.5},{"m":"LN+AD","e":146,"y":5.5,"lo":4,"hi":7},{"m":"LN+AD","e":148,"y":6.5,"lo":4.5,"hi":8.5},{"m":"LN+AD","e":149,"y":7.5,"lo":5,"hi":9},{"m":"LN+AD","e":150,"y":6.5,"lo":4.5,"hi":8}
]},
"encoding":{
"x":{"field":"e","type":"quantitative","scale":{"domain":[1,200],"nice":false,"zero":false},"axis":{"values":[25,50,75,100,125,150,175,200],"title":"Epoch","titlePadding":4}},
"color":{"field":"m","type":"nominal","scale":{"domain":["Baseline","AD","LN","LN+AD"],"range":["#ff8c00","#008000","#0000ff","#ff0000"]},
"legend":{"title":null,"orient":"top-right","offset":6,"symbolType":"stroke","symbolStrokeWidth":2.5,"symbolSize":800,"symbolOpacity":1,"labelFontSize":13,"labelColor":"#000","padding":7,"fillColor":"rgba(255,255,255,0.85)","strokeColor":"#cccccc","cornerRadius":3,"rowPadding":4,"clipHeight":16,"labelOffset":10}}
},
"layer":[
{"mark":{"type":"area","opacity":0.18},"encoding":{"y":{"field":"lo","type":"quantitative","scale":{"domain":[0,100],"nice":false},"axis":{"values":[0,20,40,60,80,100],"title":"Recognition Error (%)","titlePadding":6}},"y2":{"field":"hi"}}},
{"mark":{"type":"line","strokeWidth":2.7},"encoding":{"y":{"field":"y","type":"quantitative"}}}
]
}
